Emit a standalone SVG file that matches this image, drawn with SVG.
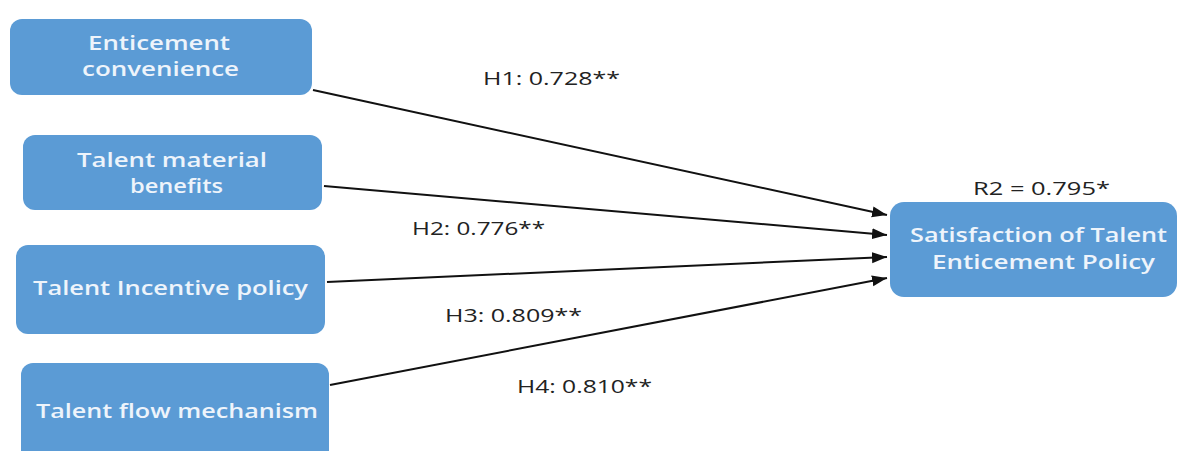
<svg xmlns="http://www.w3.org/2000/svg" width="1180" height="451" viewBox="0 0 1180 451">
  <style>
    .box { fill: #5b9bd5; }
    .btxt { font-family: "Open Sans", "Liberation Sans", sans-serif; font-size: 20px; font-weight: 600; fill: #eef4fb; }
    .lbl { font-family: "Open Sans", "Liberation Sans", sans-serif; font-size: 18px; fill: #222222; }
    .edge { stroke: #111111; stroke-width: 2; fill: none; marker-end: url(#arrow); }
  </style>
  <defs>
    <marker id="arrow" markerUnits="userSpaceOnUse" markerWidth="17" markerHeight="12" refX="15" refY="5.5" orient="auto">
      <path d="M0,0 L15,5.5 L0,11 z" fill="#111111"/>
    </marker>
  </defs>
  <rect width="1180" height="451" fill="#ffffff"/>

  <g id="connectors">
    <line class="edge" x1="313" y1="90" x2="887" y2="215"/>
    <line class="edge" x1="324" y1="186" x2="887" y2="235"/>
    <line class="edge" x1="327" y1="282" x2="887" y2="257"/>
    <line class="edge" x1="330" y1="385" x2="887" y2="278"/>
  </g>

  <g id="node-enticement-convenience">
    <rect class="box" x="10" y="19" width="302" height="76" rx="12"/>
    <text class="btxt" x="88" y="50" textLength="142" lengthAdjust="spacingAndGlyphs">Enticement</text>
    <text class="btxt" x="82" y="76" textLength="157" lengthAdjust="spacingAndGlyphs">convenience</text>
  </g>

  <g id="node-material-benefits">
    <rect class="box" x="23" y="135" width="299" height="75" rx="12"/>
    <text class="btxt" x="77" y="167" textLength="190" lengthAdjust="spacingAndGlyphs">Talent material</text>
    <text class="btxt" x="130" y="193" textLength="93" lengthAdjust="spacingAndGlyphs">benefits</text>
  </g>

  <g id="node-incentive-policy">
    <rect class="box" x="16" y="245" width="309" height="89" rx="12"/>
    <text class="btxt" x="33" y="295" textLength="275" lengthAdjust="spacingAndGlyphs">Talent Incentive policy</text>
  </g>

  <g id="node-flow-mechanism">
    <rect class="box" x="21" y="363" width="308" height="100" rx="12"/>
    <text class="btxt" x="36" y="418" textLength="282" lengthAdjust="spacingAndGlyphs">Talent flow mechanism</text>
  </g>

  <g id="node-satisfaction">
    <rect class="box" x="890" y="202" width="287" height="95" rx="14"/>
    <text class="btxt" x="910" y="242" textLength="257" lengthAdjust="spacingAndGlyphs">Satisfaction of Talent</text>
    <text class="btxt" x="932" y="269" textLength="223" lengthAdjust="spacingAndGlyphs">Enticement Policy</text>
  </g>

  <g id="labels">
    <text class="lbl" x="483" y="85" textLength="137" lengthAdjust="spacingAndGlyphs">H1: 0.728**</text>
    <text class="lbl" x="412" y="235" textLength="133" lengthAdjust="spacingAndGlyphs">H2: 0.776**</text>
    <text class="lbl" x="445" y="322" textLength="137" lengthAdjust="spacingAndGlyphs">H3: 0.809**</text>
    <text class="lbl" x="517" y="393" textLength="135" lengthAdjust="spacingAndGlyphs">H4: 0.810**</text>
    <text class="lbl" x="973" y="195" textLength="137" lengthAdjust="spacingAndGlyphs">R2 = 0.795*</text>
  </g>
</svg>
